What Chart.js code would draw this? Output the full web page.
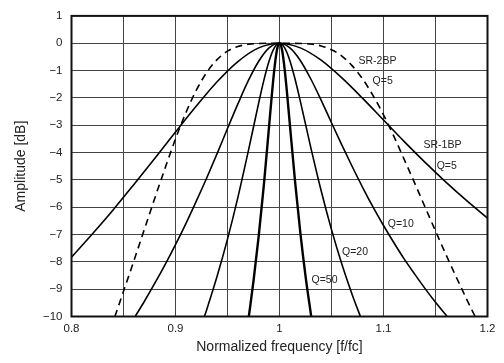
<!DOCTYPE html>
<html>
<head>
<meta charset="utf-8">
<script src="https://cdn.jsdelivr.net/npm/chart.js@4.4.1/dist/chart.umd.min.js"></script>
<style>
  html, body { margin: 0; padding: 0; background: #fff; }
  #response { display: block; }
</style>
</head>
<body>
<canvas id="response" width="504" height="363"></canvas>
<script>
// SR-1BP, Q=5
const freqQ5 = [0.80, 0.82, 0.84, 0.86, 0.88, 0.90, 0.92, 0.94, 0.96, 0.98, 1.00, 1.02, 1.04, 1.06, 1.08, 1.10, 1.12, 1.14, 1.16, 1.18, 1.20];
const ampQ5 = [-7.83, -6.98, -6.10, -5.17, -4.22, -3.25, -2.30, -1.41, -0.67, -0.17, 0, -0.17, -0.62, -1.27, -2.02, -2.81, -3.60, -4.36, -5.08, -5.76, -6.40];

// Q=10
const freqQ10 = [0.8612, 0.87, 0.88, 0.89, 0.90, 0.91, 0.92, 0.93, 0.94, 0.95, 0.96, 0.97, 0.98, 0.99, 1.00, 1.01, 1.02, 1.03, 1.04, 1.05, 1.06, 1.07, 1.08, 1.09, 1.10, 1.11, 1.12, 1.13, 1.14, 1.15, 1.1612];
const ampQ10 = [-10, -9.45, -8.79, -8.10, -7.37, -6.60, -5.78, -4.93, -4.04, -3.12, -2.22, -1.37, -0.66, -0.17, 0, -0.17, -0.63, -1.30, -2.08, -2.91, -3.73, -4.52, -5.28, -6.00, -6.67, -7.30, -7.90, -8.45, -8.98, -9.48, -10];

// Q=20
const freqQ20 = [0.9278, 0.93, 0.94, 0.95, 0.96, 0.97, 0.98, 0.985, 0.99, 0.995, 1.00, 1.005, 1.01, 1.015, 1.02, 1.03, 1.04, 1.05, 1.06, 1.07, 1.0778];
const ampQ20 = [-10, -9.75, -8.53, -7.17, -5.64, -3.95, -2.18, -1.35, -0.65, -0.17, 0, -0.17, -0.64, -1.32, -2.12, -3.80, -5.39, -6.82, -8.09, -9.21, -10];

// Q=50
const freqQ50 = [0.9705, 0.975, 0.98, 0.985, 0.99, 0.9925, 0.995, 0.9975, 1.00, 1.0025, 1.005, 1.0075, 1.01, 1.015, 1.02, 1.025, 1.0305];
const ampQ50 = [-10, -8.70, -7.06, -5.17, -3.03, -1.95, -0.97, -0.26, 0, -0.26, -0.97, -1.93, -2.99, -5.07, -6.92, -8.51, -10];

// SR-2BP, Q=5 (dashed)
const freqSR2 = [0.8417, 0.85, 0.86, 0.87, 0.88, 0.89, 0.90, 0.91, 0.92, 0.93, 0.94, 0.95, 0.96, 0.97, 0.98, 1.00, 1.02, 1.03, 1.04, 1.05, 1.06, 1.07, 1.08, 1.09, 1.10, 1.11, 1.12, 1.13, 1.14, 1.15, 1.16, 1.17, 1.18, 1.1881];
const ampSR2 = [-10, -9.08, -7.96, -6.82, -5.68, -4.57, -3.50, -2.54, -1.72, -1.07, -0.60, -0.29, -0.12, -0.04, -0.01, 0, -0.01, -0.03, -0.10, -0.24, -0.47, -0.83, -1.31, -1.92, -2.62, -3.41, -4.26, -5.12, -6.00, -6.87, -7.73, -8.56, -9.37, -10];

// curve labels: text, x, y (in data units)
const labelText = ['SR-2BP', 'Q=5', 'SR-1BP', 'Q=5', 'Q=10', 'Q=20', 'Q=50'];
const labelFreq = [1.0942, 1.0992, 1.1567, 1.1608, 1.1166, 1.0726, 1.0433];
const labelAmp = [-0.66, -1.39, -3.74, -4.48, -6.62, -7.63, -8.66];

const FONT = '"Liberation Sans", Arial, Helvetica, sans-serif';

function pairs(xs, ys) {
  return xs.map((x, i) => ({ x: x, y: ys[i] }));
}

function curve(xs, ys, width, dash) {
  return {
    data: pairs(xs, ys),
    borderColor: '#000',
    borderWidth: width,
    borderDash: dash || [],
    pointRadius: 0,
    fill: false,
    cubicInterpolationMode: 'monotone'
  };
}

const frame = {
  id: 'frame',
  afterDatasetsDraw(chart) {
    const { ctx, chartArea: a, scales } = chart;
    ctx.save();
    ctx.fillStyle = '#222';
    ctx.font = '10.5px ' + FONT;
    ctx.textAlign = 'center';
    ctx.textBaseline = 'middle';
    labelText.forEach((t, i) => {
      ctx.fillText(t, scales.x.getPixelForValue(labelFreq[i]), scales.y.getPixelForValue(labelAmp[i]));
    });
    ctx.strokeStyle = '#111';
    ctx.lineWidth = 2;
    ctx.strokeRect(a.left, a.top, a.right - a.left, a.bottom - a.top);
    ctx.restore();
  }
};

new Chart(document.getElementById('response'), {
  type: 'line',
  data: {
    datasets: [
      curve(freqQ5, ampQ5, 1.6),
      curve(freqQ10, ampQ10, 1.6),
      curve(freqQ20, ampQ20, 1.6),
      curve(freqQ50, ampQ50, 2.4),
      curve(freqSR2, ampSR2, 1.6, [7, 5])
    ]
  },
  options: {
    responsive: false,
    animation: false,
    layout: { padding: { top: 11, right: 16.5, left: 0, bottom: 0 } },
    plugins: { legend: { display: false }, tooltip: { enabled: false } },
    scales: {
      x: {
        type: 'linear',
        min: 0.8,
        max: 1.2,
        grid: { color: '#444', lineWidth: 1, drawTicks: false },
        border: { display: false },
        ticks: {
          stepSize: 0.05,
          autoSkip: false,
          maxRotation: 0,
          padding: 5,
          color: '#222',
          font: { family: FONT, size: 11.5 },
          callback: v => {
            const k = Math.round(v * 20);
            return k % 2 ? '' : String(k / 20);
          }
        },
        title: {
          display: true,
          text: 'Normalized frequency [f/fc]',
          color: '#222',
          font: { family: FONT, size: 14 },
          padding: { top: 0, bottom: 7 }
        },
        afterFit: s => { s.height = 46.5; }
      },
      y: {
        min: -10,
        max: 1,
        grid: { color: '#444', lineWidth: 1, drawTicks: false },
        border: { display: false },
        ticks: {
          stepSize: 1,
          padding: 9,
          color: '#222',
          font: { family: FONT, size: 11.5 },
          callback: v => (v < 0 ? '\u2212' + Math.abs(v) : String(v))
        },
        title: {
          display: true,
          text: 'Amplitude [dB]',
          color: '#222',
          font: { family: FONT, size: 14 },
          padding: { top: 12.4, bottom: 0 }
        },
        afterFit: s => { s.width = 71.5; }
      }
    }
  },
  plugins: [frame]
});
</script>
</body>
</html>
